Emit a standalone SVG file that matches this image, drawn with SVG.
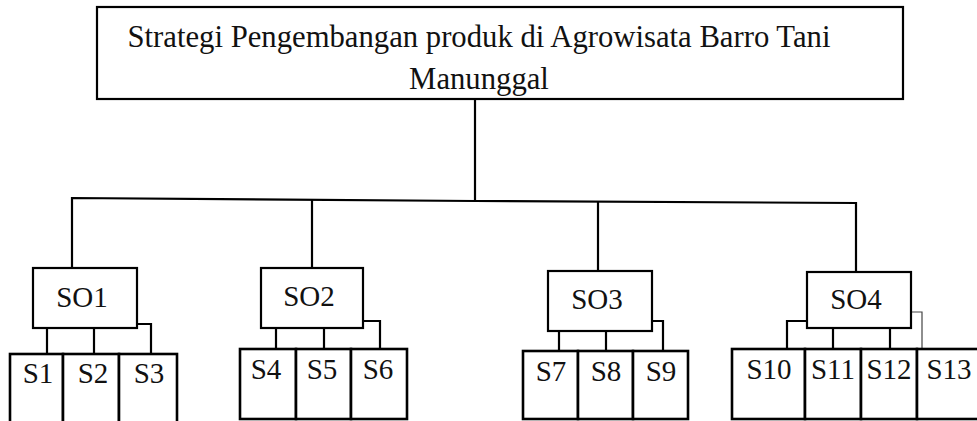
<svg xmlns="http://www.w3.org/2000/svg" width="977" height="421" viewBox="0 0 977 421">
<style>
.box{fill:#fff;stroke:#000;stroke-width:2.2}
.sbox{fill:#fff;stroke:#000;stroke-width:2.6}
.con{fill:none;stroke:#000;stroke-width:2.2}
.thin{fill:none;stroke:#444;stroke-width:1.2}
text{font-family:"Liberation Serif","Times New Roman",serif;fill:#111;text-anchor:middle}
.t{font-size:30.7px}
.l{font-size:29px}
</style>
<rect width="977" height="421" fill="#fff"/>
<g id="connectors">
<line class="con" x1="475" y1="99" x2="475" y2="201"/>
<polyline class="con" points="72,268 72,198 475,201 856,203 856,272"/>
<line class="con" x1="312" y1="199.5" x2="312" y2="268"/>
<line class="con" x1="598" y1="202" x2="598" y2="271"/>
<line class="con" x1="47" y1="328" x2="47" y2="354"/>
<line class="con" x1="94" y1="328" x2="94" y2="354"/>
<polyline class="con" points="137,324 151,324 151,354"/>
<line class="con" x1="276" y1="328" x2="276" y2="349"/>
<line class="con" x1="324" y1="328" x2="324" y2="349"/>
<polyline class="con" points="363,321 380,321 380,349"/>
<line class="con" x1="559" y1="331" x2="559" y2="351"/>
<line class="con" x1="606" y1="331" x2="606" y2="351"/>
<polyline class="con" points="652,321 663,321 663,351"/>
<polyline class="con" points="807,321 787,321 787,349"/>
<line class="con" x1="833" y1="328" x2="833" y2="349"/>
<line class="con" x1="890" y1="328" x2="890" y2="349"/>
<polyline class="thin" points="911,312 922,312 922,349"/>
</g>
<g id="root">
<rect class="box" x="97" y="7" width="806" height="92"/>
<text class="t" x="479" y="47">Strategi Pengembangan produk di Agrowisata Barro Tani</text>
<text class="t" x="479" y="89">Manunggal</text>
</g>
<g id="SO1"><rect class="box" x="33" y="268" width="104" height="60"/><text class="l" x="82" y="307">SO1</text></g>
<g id="SO2"><rect class="box" x="261" y="268" width="102" height="60"/><text class="l" x="309" y="306">SO2</text></g>
<g id="SO3"><rect class="box" x="548" y="271" width="104" height="60"/><text class="l" x="597" y="309">SO3</text></g>
<g id="SO4"><rect class="box" x="807" y="272" width="104" height="56"/><text class="l" x="856" y="309">SO4</text></g>
<g id="S1"><rect class="sbox" x="10" y="354" width="53" height="80"/><text class="l" x="38" y="383">S1</text></g>
<g id="S2"><rect class="sbox" x="63" y="354" width="56" height="80"/><text class="l" x="93" y="383">S2</text></g>
<g id="S3"><rect class="sbox" x="119" y="354" width="58" height="80"/><text class="l" x="149" y="383">S3</text></g>
<g id="S4"><rect class="sbox" x="240" y="349" width="56" height="70"/><text class="l" x="266" y="379">S4</text></g>
<g id="S5"><rect class="sbox" x="296" y="349" width="55" height="70"/><text class="l" x="322" y="379">S5</text></g>
<g id="S6"><rect class="sbox" x="351" y="349" width="56" height="70"/><text class="l" x="378" y="379">S6</text></g>
<g id="S7"><rect class="sbox" x="523" y="351" width="55" height="68"/><text class="l" x="551" y="381">S7</text></g>
<g id="S8"><rect class="sbox" x="578" y="351" width="55" height="68"/><text class="l" x="606" y="381">S8</text></g>
<g id="S9"><rect class="sbox" x="633" y="351" width="55" height="68"/><text class="l" x="661" y="381">S9</text></g>
<g id="S10"><rect class="sbox" x="732" y="349" width="73" height="70"/><text class="l" x="769" y="379">S10</text></g>
<g id="S11"><rect class="sbox" x="805" y="349" width="56" height="70"/><text class="l" x="833" y="379">S11</text></g>
<g id="S12"><rect class="sbox" x="861" y="349" width="56" height="70"/><text class="l" x="889" y="379">S12</text></g>
<g id="S13"><rect class="sbox" x="917" y="349" width="80" height="70"/><text class="l" x="949" y="379">S13</text></g>
</svg>
